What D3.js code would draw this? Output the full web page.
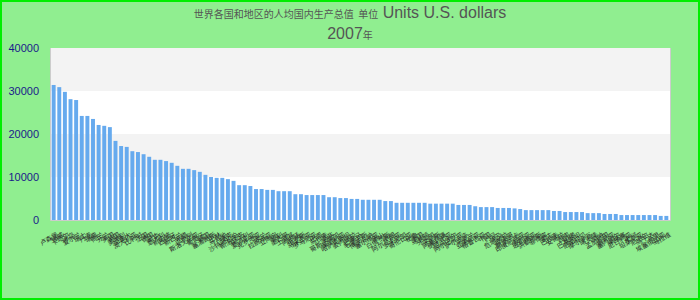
<!DOCTYPE html>
<html><head><meta charset="utf-8">
<script src="https://cdn.jsdelivr.net/npm/d3@7"></script>
<style>html,body{margin:0;padding:0;background:#90ee90;}svg{display:block;}</style>
</head><body>
<svg id="c" width="700" height="300"></svg>
<script>
const titleCJK = "世界各国和地区的人均国内生产总值";
const unitCJK = "单位";
const titleLatin = "Units U.S. dollars";
const subtitleYear = "2007";
const subtitleCJK = "年";

const categories = ["卢森堡","挪威","卡塔尔","冰岛","爱尔兰","瑞士","丹麦","瑞典","荷兰","芬兰",
"美国","英国","奥地利","加拿大","澳大利亚","比利时","法国","德国","日本","意大利",
"新加坡","西班牙","新西兰","希腊","以色列","斯洛文尼亚","葡萄牙","韩国","塞浦路斯","巴林",
"马耳他","捷克","沙特阿拉伯","斯洛伐克","匈牙利","爱沙尼亚","克罗地亚","波兰","拉脱维亚","立陶宛",
"智利","墨西哥","土耳其","阿根廷","俄罗斯","马来西亚","罗马尼亚","巴西","乌拉圭","南非",
"哥斯达黎加","保加利亚","哈萨克斯坦","委内瑞拉","巴拿马","毛里求斯","博茨瓦纳","塞尔维亚","黑山","白俄罗斯",
"伊朗","阿尔及利亚","多米尼加","哥伦比亚","秘鲁","泰国","马其顿","牙买加","突尼斯","阿塞拜疆",
"纳米比亚","厄瓜多尔","阿尔巴尼亚","萨尔瓦多","乌克兰","亚美尼亚","格鲁吉亚","中国","约旦","埃及",
"危地马拉","摩洛哥","斯里兰卡","印度尼西亚","叙利亚","玻利维亚","洪都拉斯","菲律宾","蒙古","巴拉圭",
"安哥拉","越南","印度","巴基斯坦","尼加拉瓜","摩尔多瓦","喀麦隆","加纳","孟加拉国","肯尼亚",
"塞内加尔","柬埔寨","尼日利亚","老挝","坦桑尼亚","尼泊尔","乌干达","马里","埃塞俄比亚","马拉维"];

const values = [31400,30900,29800,28100,27900,24200,24200,23500,22100,21900,
21600,18400,17200,17000,16000,15800,15300,14700,14000,14000,
13700,13300,12600,11900,11900,11600,11200,10500,10000,9800,
9800,9500,9100,8100,8100,7900,7200,7200,7000,7000,
6700,6700,6700,6000,6000,5800,5800,5800,5800,5300,
5300,5100,5100,4900,4900,4700,4700,4700,4700,4400,
4400,4000,4000,4000,4000,4000,4000,3800,3800,3800,
3800,3800,3500,3500,3500,3200,3000,3000,3000,2800,
2800,2800,2700,2550,2300,2300,2300,2300,2300,2100,
2100,1850,1850,1850,1850,1600,1600,1600,1400,1400,
1400,1150,1150,1150,1150,1150,1150,1150,950,950];

const yTicks = [0,10000,20000,30000,40000];

const svg = d3.select("#c");
const W = 700, H = 300;
const m = {left:50, right:30, top:48, bottom:80};
const pw = W - m.left - m.right, ph = H - m.top - m.bottom;

svg.append("rect").attr("x",1).attr("y",1).attr("width",W-2).attr("height",H-2)
  .attr("fill","#90ee90").attr("stroke","#00ee00").attr("stroke-width",2);

const x = d3.scaleBand().domain(categories).range([m.left, m.left+pw]).paddingInner(0.3).paddingOuter(0.3);
const y = d3.scaleLinear().domain([0,40000]).range([m.top+ph, m.top]);

const g = svg.append("g");
g.append("rect").attr("x",m.left).attr("y",m.top).attr("width",pw).attr("height",ph).attr("fill","#ffffff");
g.selectAll("rect.band").data(d3.pairs(yTicks).filter((d,i)=>i%2===1)).join("rect")
  .attr("class","band").attr("x",m.left).attr("width",pw)
  .attr("y",d=>y(d[1])).attr("height",d=>y(d[0])-y(d[1])).attr("fill","#f3f3f3");

g.selectAll("rect.bar").data(values).join("rect").attr("class","bar")
  .attr("x",(d,i)=>x(categories[i])).attr("width",x.bandwidth())
  .attr("y",d=>y(d)).attr("height",d=>y(0)-y(d)).attr("fill","#66aaee");

g.append("path").attr("d",`M${m.left+0.5},${m.top}V${m.top+ph+0.5}H${m.left+pw+0.5}V${m.top}`)
  .attr("fill","none").attr("stroke","#cccccc").attr("stroke-width",1);

const ya = svg.append("g").attr("transform",`translate(${m.left},0)`)
  .call(d3.axisLeft(y).tickValues(yTicks).tickSize(0).tickPadding(11).tickFormat(d3.format("d")));
ya.select(".domain").remove();
ya.selectAll("text").attr("fill","#1a1a8a").style("font-family","'Liberation Sans',Arial,sans-serif").style("font-size","11px");

const xa = svg.append("g").attr("transform",`translate(0,${m.top+ph})`)
  .call(d3.axisBottom(x).tickSize(0).tickPadding(0));
xa.select(".domain").remove();
xa.selectAll("text")
  .attr("text-anchor","end").attr("y",0).attr("dy",0).attr("x",0)
  .attr("transform",`translate(${x.bandwidth()/2+3},16) rotate(-30)`)
  .attr("fill","#2a2a2a")
  .style("font-family","'Noto Sans CJK SC',sans-serif").style("font-size","6.5px");

const t1 = svg.append("text").attr("x",350).attr("y",17.5).attr("text-anchor","middle")
  .attr("fill","#555555").style("font-family","'Liberation Sans',Arial,sans-serif").style("font-size","16px");
t1.append("tspan").style("font-family","'Noto Sans CJK SC',sans-serif").style("font-size","10px").text(titleCJK);
t1.append("tspan").text(" ");
t1.append("tspan").style("font-family","'Noto Sans CJK SC',sans-serif").style("font-size","10px").text(unitCJK);
t1.append("tspan").text(" " + titleLatin);
const t2 = svg.append("text").attr("x",350).attr("y",39).attr("text-anchor","middle")
  .attr("fill","#555555").style("font-family","'Liberation Sans',Arial,sans-serif").style("font-size","16px");
t2.append("tspan").text(subtitleYear);
t2.append("tspan").style("font-family","'Noto Sans CJK SC',sans-serif").style("font-size","10px").text(subtitleCJK);
</script>
</body></html>
